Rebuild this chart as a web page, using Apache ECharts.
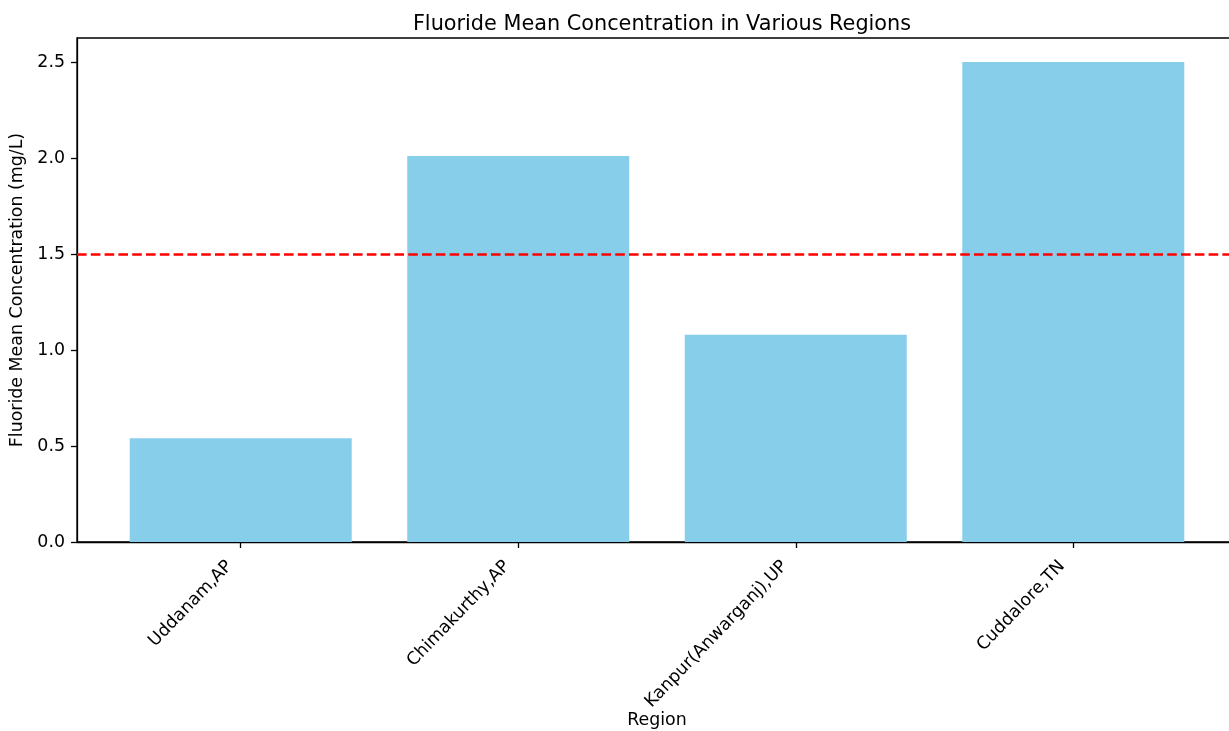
<!DOCTYPE html>
<html>
<head>
<meta charset="utf-8">
<script src="https://cdn.jsdelivr.net/npm/echarts@6/dist/echarts.min.js"></script>
<style>
html,body{margin:0;padding:0;background:#fff;}
#chart{width:1229px;height:731px;}
</style>
</head>
<body>
<div id="chart"></div>
<script>
const categories = ['Uddanam,AP', 'Chimakurthy,AP', 'Kanpur(Anwarganj),UP', 'Cuddalore,TN'];
const fluorideMean = [0.54, 2.01, 1.08, 2.5];
const threshold = 1.5;
const yTicks = [0, 0.5, 1.0, 1.5, 2.0, 2.5];
const xTicks = [0, 1, 2, 3];

const font = 'DejaVu Sans';
const chart = echarts.init(document.getElementById('chart'), null, {renderer: 'canvas'});
chart.setOption({
  animation: false,
  backgroundColor: '#fff',
  title: {
    text: 'Fluoride Mean Concentration in Various Regions',
    left: 657, top: 9, textAlign: 'center',
    textStyle: {fontFamily: font, fontSize: 20.8, fontWeight: 'normal', color: '#000'}
  },
  grid: {
    left: 77, right: -8, top: 38, bottom: 189,
    containLabel: false, outerBoundsMode: 'none',
    show: true, borderColor: '#000', borderWidth: 1.3, backgroundColor: 'transparent'
  },
  xAxis: {
    type: 'value', min: -0.59, max: 3.59,
    name: 'Region', nameLocation: 'middle', nameGap: 170, nameMoveOverlap: false,
    nameTextStyle: {fontFamily: font, fontSize: 17.4, color: '#000', verticalAlign: 'top'},
    splitLine: {show: false},
    axisLine: {show: true, onZero: false, lineStyle: {color: '#000', width: 1.3}},
    axisTick: {show: true, length: 6, customValues: xTicks, lineStyle: {color: '#000', width: 1.3}},
    axisLabel: {
      customValues: xTicks, rotate: 46, margin: 10, padding: [0, 16, 0, 0],
      fontFamily: font, fontSize: 17.4, color: '#000',
      formatter: v => categories[Math.round(v)] || ''
    }
  },
  yAxis: {
    type: 'value', min: 0, max: 2.625,
    name: 'Fluoride Mean Concentration (mg/L)', nameLocation: 'middle', nameGap: 47,
    nameTextStyle: {fontFamily: font, fontSize: 17.4, color: '#000'},
    splitLine: {show: false},
    axisLine: {show: true, onZero: false, lineStyle: {color: '#000', width: 1.3}},
    axisTick: {show: true, length: 6, customValues: yTicks, lineStyle: {color: '#000', width: 1.3}},
    axisLabel: {
      customValues: yTicks, margin: 12,
      fontFamily: font, fontSize: 17.4, color: '#000',
      formatter: v => v.toFixed(1)
    }
  },
  series: [{
    type: 'bar',
    data: fluorideMean.map((v, i) => [i, v]),
    barWidth: 222,
    itemStyle: {color: '#87CEEB'},
    markLine: {
      silent: true, symbol: 'none',
      label: {show: false},
      lineStyle: {color: '#ff0000', width: 2.6, type: [9.6, 4.2]},
      data: [{yAxis: threshold}]
    }
  }]
});
</script>
</body>
</html>
